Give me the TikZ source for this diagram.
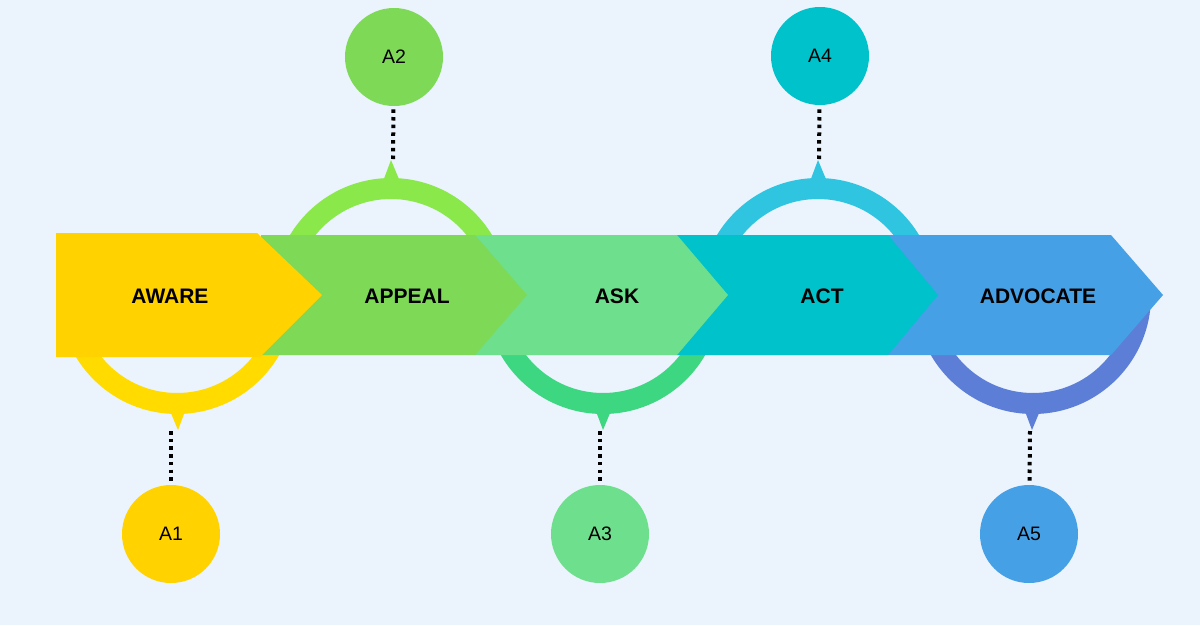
\documentclass[tikz,border=0pt]{standalone}
\usepackage{xcolor}
\usepackage{fontspec}
\setmainfont{Liberation Sans}
\usepackage{tikz}
\usetikzlibrary{positioning}

\definecolor{bgblue}{HTML}{EBF3FD}
\definecolor{awareY}{HTML}{FFD200}
\definecolor{appealG}{HTML}{7ED957}
\definecolor{askG}{HTML}{6EDF8C}
\definecolor{actC}{HTML}{00C2CB}
\definecolor{advB}{HTML}{46A0E6}
\definecolor{ringY}{HTML}{FFDB00}
\definecolor{ringG}{HTML}{8AE84A}
\definecolor{ringM}{HTML}{3DD681}
\definecolor{ringC}{HTML}{2FC4E0}
\definecolor{ringP}{HTML}{5C7ED6}

\begin{document}
\begin{tikzpicture}[x=1pt, y=-1pt,
  stage/.style={font=\fontsize{21}{25}\selectfont\bfseries},
  ring/.style={line width=21pt},
  dotline/.style={line width=4pt, dash pattern=on 3.5pt off 4.2pt, shorten >=3pt},
  bubble/.style={circle, minimum size=98pt, inner sep=0pt, font=\fontsize{19.5}{23}\selectfont}]
  \fill[bgblue] (0,0) rectangle (1200,625);

  % half rings behind the band
  \draw[ring, ringY] (284.5,296) arc[start angle=0, end angle=180, radius=107.5];
  \draw[ring, ringG] (498.5,296) arc[start angle=0, end angle=-180, radius=107.5];
  \draw[ring, ringM] (710.5,296) arc[start angle=0, end angle=180, radius=107.5];
  \draw[ring, ringC] (925.5,296) arc[start angle=0, end angle=-180, radius=107.5];
  \draw[ring, ringP] (1140.5,296) arc[start angle=0, end angle=180, radius=107.5];

  % pointers
  \fill[ringY] (168,406) -- (187,406) -- (178,430) -- cycle;
  \fill[ringG] (382,184) -- (401,184) -- (391,160) -- cycle;
  \fill[ringM] (594,406) -- (613,406) -- (603,430) -- cycle;
  \fill[ringC] (809,184) -- (828,184) -- (818,160) -- cycle;
  \fill[ringP] (1023,406) -- (1042,406) -- (1032,430) -- cycle;

  % the band, last stage first
  \fill[advB] (888,235) -- (1111,235) -- (1163,295) -- (1111,355) -- (888,355) -- cycle;
  \fill[actC] (677,235) -- (888,235) -- (938,295) -- (888,355) -- (677,355) -- cycle;
  \fill[askG] (475,235) -- (677,235) -- (728,295) -- (677,355) -- (475,355) -- cycle;
  \fill[appealG] (261,235) -- (475,235) -- (527,295) -- (475,355) -- (261,355) -- cycle;
  \fill[awareY] (56,233) -- (257,233) -- (322,295) -- (260,357) -- (56,357) -- cycle;

  \node[stage] (aware) at (170,296) {AWARE};
  \node[stage] (appeal) at (407,296) {APPEAL};
  \node[stage] (ask) at (617,296) {ASK};
  \node[stage] (act) at (822,296) {ACT};
  \node[stage] (advocate) at (1038,296) {ADVOCATE};

  % bubbles and dotted leaders
  \node[bubble, fill=awareY] (a1) at (171,534) {A1};
  \node[bubble, fill=appealG] (a2) at (394,57) {A2};
  \node[bubble, fill=askG] (a3) at (600,534) {A3};
  \node[bubble, fill=actC] (a4) at (820,56) {A4};
  \node[bubble, fill=advB] (a5) at (1029,534) {A5};

  \coordinate (t1) at (171,431);
  \coordinate (t2) at (393,159);
  \coordinate (t3) at (600,431);
  \coordinate (t4) at (819,159);
  \coordinate (t5) at (1030,431);

  \draw[dotline] (t1) -- (a1);
  \draw[dotline] (t2) -- (a2);
  \draw[dotline] (t3) -- (a3);
  \draw[dotline] (t4) -- (a4);
  \draw[dotline] (t5) -- (a5);
\end{tikzpicture}
\end{document}
